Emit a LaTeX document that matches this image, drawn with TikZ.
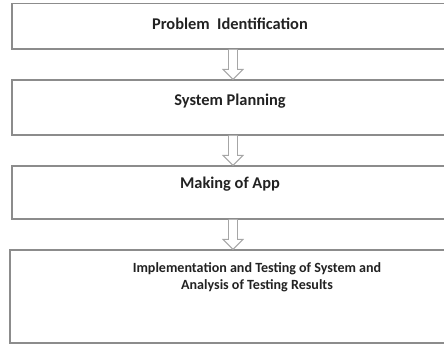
\documentclass[tikz,border=0pt]{standalone}
\usepackage{fontspec}
\setmainfont{Carlito}
\usepackage{tikz}
\usetikzlibrary{positioning, calc}
\definecolor{boxgray}{HTML}{8C8C8C}
\definecolor{arrowgray}{HTML}{A6A6A6}
\definecolor{inkgray}{HTML}{222222}

% hollow block arrow between two stacked boxes (a bit right of centre)
\newcommand{\blockdown}[2]{%
  \draw[blockarrow] ($(#1.south)+(-0.045,0)$) -- ($(#2.north)+(-0.045,0.3)$)
    -- ($(#2.north)+(-0.21,0.3)$) -- ($(#2.north)+(0.09,0)$) -- ($(#2.north)+(0.39,0.3)$)
    -- ($(#2.north)+(0.225,0.3)$) -- ($(#1.south)+(0.225,0)$);}

\begin{document}
\begin{tikzpicture}[font=\fontsize{14}{15}\selectfont\bfseries,
    stepbox/.style={draw=boxgray, line width=1.1pt, rectangle, minimum width=13.08cm, inner sep=0pt},
    steptext/.style={text=inkgray, align=center, inner sep=0pt},
    blockarrow/.style={draw=arrowgray, line width=0.8pt, fill=white, line join=miter}]

  \useasboundingbox (0,0) rectangle (13.32,10.35);

  \node[stepbox, minimum height=1.37cm] (identify) at (6.9, 9.565) {};
  \node[stepbox, minimum height=1.65cm] (planning) at (6.9, 7.125) {};
  \node[stepbox, minimum height=1.59cm] (making) at (6.9, 4.575) {};
  \node[stepbox, minimum height=2.79cm, minimum width=13.2cm] (testing) at (6.9, 1.455) {};

  \node[steptext] (identifyT) at ($(identify.north)+(0,-0.62)$) {Problem\ \ Identification};
  \node[steptext] (planningT) at ($(planning.north)+(0,-0.66)$) {System Planning};
  \node[steptext] (makingT) at ($(making.north)+(0,-0.57)$) {Making of App};
  \node[steptext, font=\fontsize{12}{14.5}\selectfont\bfseries] (testingT) at ($(testing.north)+(0.81,-0.84)$) {Implementation and Testing of System and\\Analysis of Testing Results};

  \blockdown{identify}{planning}
  \blockdown{planning}{making}
  \blockdown{making}{testing}
\end{tikzpicture}
\end{document}
